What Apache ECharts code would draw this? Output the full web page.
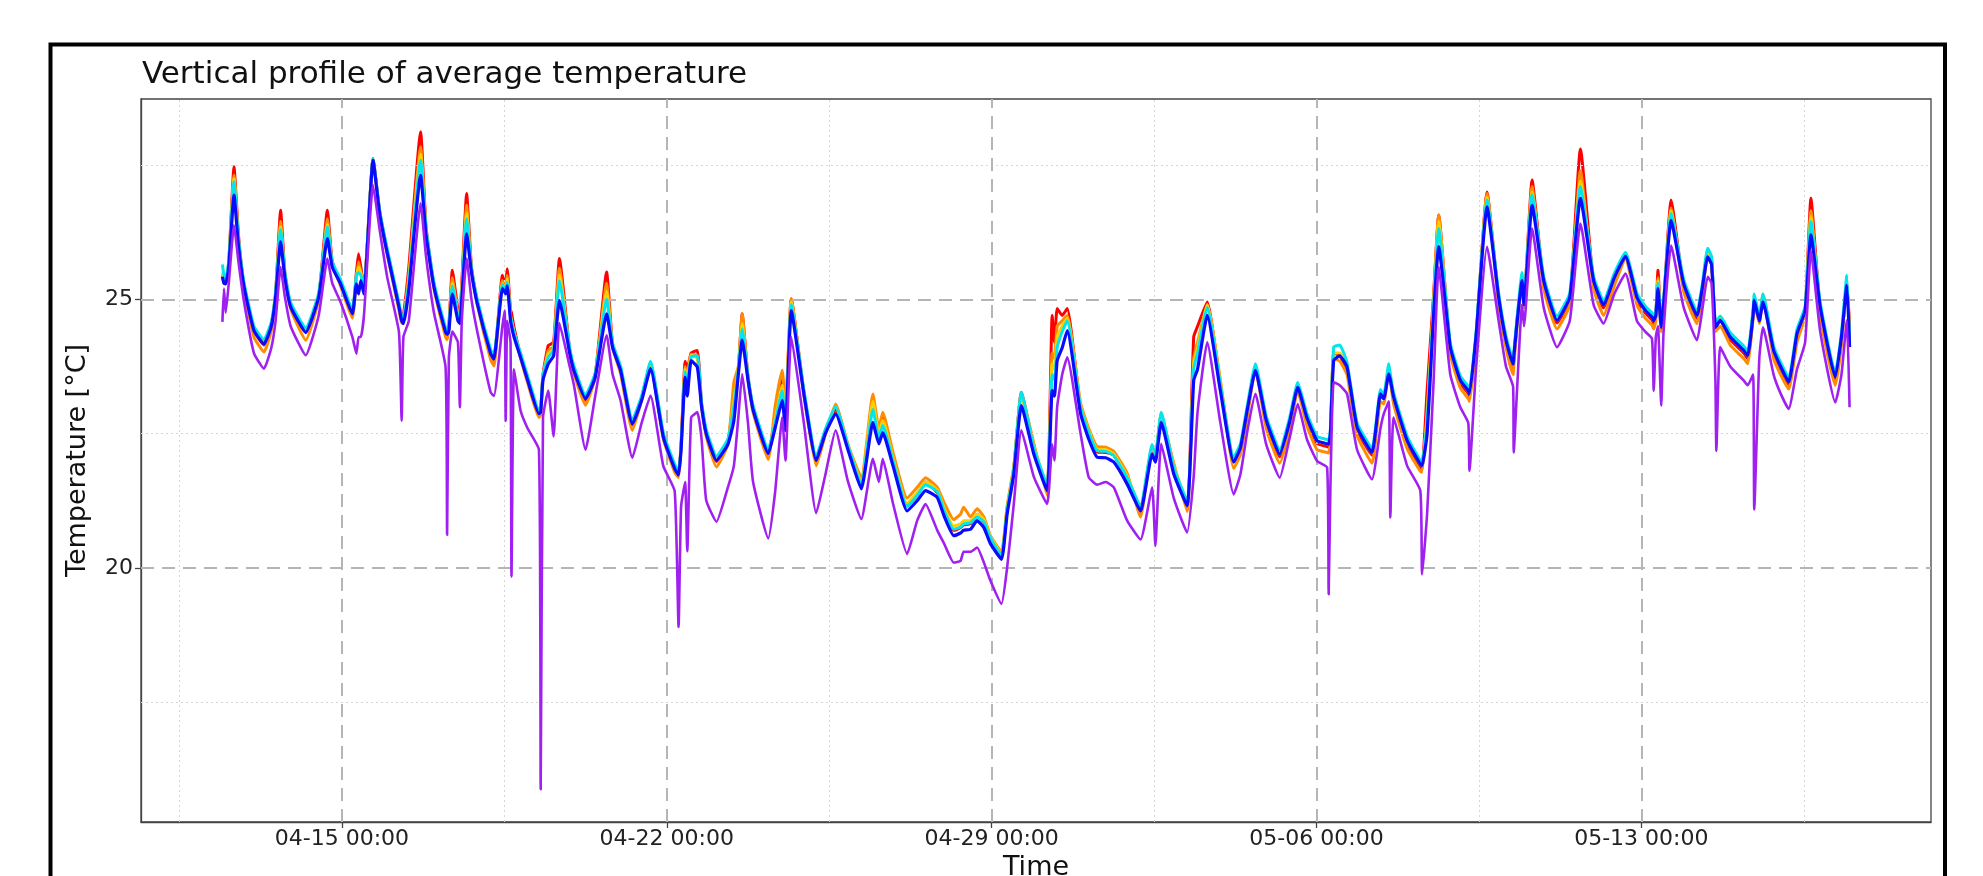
<!DOCTYPE html>
<html><head><meta charset="utf-8">
<script src="https://cdn.jsdelivr.net/npm/echarts@6/dist/echarts.min.js"></script>
<style>html,body{margin:0;padding:0;background:#fff}#chart{width:1983px;height:876px}</style>
</head><body><div id="chart"></div>
<script>
// time axis: hours since 04-12 00:00
const hours = [
10.2, 11.0, 11.9, 13.5, 16.2, 18.5, 21.4, 26.5, 31.7, 35.5,
37.7, 40.3, 42.5, 45.5, 53.3, 60.0, 64.5, 67.0, 71.3, 77.4,
79.5, 80.6, 81.8, 83.4, 88.1, 91.5, 95.5, 101.5, 102.9, 103.8,
106.6, 112.7, 115.5, 119.6, 125.6, 126.4, 127.3, 129.1, 132.0, 133.0,
134.0, 136.5, 139.0, 142.0, 148.9, 150.6, 155.0, 156.2, 156.7, 157.5,
159.2, 159.7, 161.0, 164.4, 168.0, 173.9, 174.8, 176.0, 178.7, 181.5,
184.5, 189.8, 192.0, 198.0, 203.0, 208.9, 212.0, 216.1, 222.2, 227.0,
231.6, 238.2, 244.1, 246.1, 247.4, 249.5, 250.6, 252.6, 255.8, 258.0,
260.4, 265.7, 271.6, 274.7, 277.0, 279.0, 282.0, 284.6, 292.5, 296.0,
299.7, 301.4, 304.4, 310.9, 317.3, 322.0, 327.3, 333.7, 340.6, 346.6,
349.7, 351.7, 357.0, 364.3, 369.5, 373.8, 379.9, 383.6, 388.4, 391.9,
393.5, 397.1, 400.5, 404.0, 407.4, 413.1, 416.0, 419.5, 423.4, 429.8,
436.7, 439.3, 440.5, 441.9, 444.5, 447.1, 454.0, 458.2, 462.6, 467.0,
471.2, 478.1, 485.0, 491.0, 492.7, 495.7, 502.2, 509.1, 512.5, 514.5,
519.5, 526.3, 533.2, 536.7, 540.5, 544.4, 550.0, 557.0, 562.0, 566.3,
571.0, 576.3, 581.5, 582.3, 583.2, 584.9, 588.0, 591.8, 597.0, 604.7,
609.1, 610.8, 613.4, 614.2, 615.9, 622.9, 629.7, 630.6, 633.2, 636.6,
639.2, 645.2, 650.4, 654.5, 655.1, 658.5, 664.2, 670.2, 674.0, 677.7,
678.0, 679.7, 682.3, 683.3, 687.5, 693.5, 700.4, 707.0, 712.5, 719.3,
724.5, 730.0, 735.8, 741.7, 746.0, 749.5, 750.4, 751.5, 752.6, 754.3,
755.5, 759.4, 765.9, 772.8, 775.5, 778.3, 780.3, 782.3, 782.8, 784.8,
790.0, 796.9, 799.0, 801.8, 802.4, 805.0, 806.9, 812.4, 816.0, 820.2,
824.5, 828.7, 831.7, 836.5, 844.3, 847.5, 850.3, 851.7
];

const redValues = [
25.45, 25.33, 25.32, 25.7, 27.47, 26.2, 25.26, 24.42, 24.15, 24.5,
25.1, 26.66, 25.5, 24.88, 24.38, 25.06, 26.66, 25.7, 25.31, 24.75,
25.5, 25.85, 25.6, 25.2, 27.62, 26.65, 25.88, 24.88, 24.62, 24.7,
25.6, 28.12, 26.35, 25.26, 24.4, 24.36, 24.5, 25.54, 24.8, 24.7,
25.3, 26.97, 25.6, 24.95, 23.98, 23.86, 25.45, 25.3, 25.3, 25.57,
24.8, 24.75, 24.48, 23.95, 23.52, 22.88, 22.92, 23.6, 24.14, 24.2,
25.76, 24.05, 23.7, 23.12, 23.6, 25.51, 24.15, 23.7, 22.66, 23.16,
23.8, 22.46, 21.86, 21.75, 22.3, 23.85, 23.7, 24.0, 24.05, 23.05,
22.52, 21.98, 22.35, 23.2, 23.7, 24.73, 23.55, 22.98, 22.12, 22.8,
23.5, 22.8, 25.01, 23.27, 21.98, 22.52, 22.95, 22.25, 21.55, 23.1,
22.45, 22.8, 22.0, 21.15, 21.35, 21.6, 21.4, 21.05, 20.7, 20.75,
20.8, 20.82, 21.0, 20.85, 20.55, 20.22, 21.1, 21.85, 23.27, 22.22,
21.5, 24.7, 24.2, 24.83, 24.7, 24.83, 22.97, 22.5, 22.16, 22.15,
22.1, 21.66, 21.1, 22.2, 22.05, 22.85, 21.85, 21.2, 24.3, 24.5,
24.95, 23.4, 22.0, 22.22, 22.98, 23.75, 22.7, 22.07, 22.65, 23.4,
22.75, 22.32, 22.26, 22.25, 22.45, 24.0, 23.95, 23.69, 22.57, 22.1,
23.2, 23.15, 23.7, 23.55, 23.15, 22.32, 21.88, 21.85, 23.3, 25.1,
26.57, 24.06, 23.44, 23.25, 23.2, 24.28, 27.0, 25.0, 24.2, 23.75,
23.75, 24.6, 25.4, 24.95, 27.22, 25.3, 24.56, 25.0, 27.8, 25.3,
24.84, 25.35, 25.85, 25.0, 24.75, 24.62, 24.55, 24.7, 25.54, 24.5,
24.9, 26.85, 25.24, 24.65, 25.15, 25.9, 25.75, 24.5, 24.52, 24.6,
24.25, 24.0, 23.9, 24.75, 25.02, 24.6, 25.05, 24.0, 23.7, 23.41,
24.31, 24.8, 26.88, 24.81, 23.5, 24.25, 25.3, 24.5
];

const orangeValues = [
25.42, 25.3, 25.29, 25.65, 27.31, 26.1, 25.2, 24.3, 24.02, 24.42,
25.04, 26.45, 25.42, 24.82, 24.24, 25.0, 26.5, 25.65, 25.25, 24.65,
25.4, 25.7, 25.5, 25.15, 27.6, 26.6, 25.82, 24.8, 24.55, 24.6,
25.45, 27.84, 26.3, 25.2, 24.3, 24.25, 24.45, 25.4, 24.7, 24.6,
25.2, 26.75, 25.55, 24.9, 23.88, 23.76, 25.35, 25.25, 25.2, 25.45,
24.7, 24.6, 24.4, 23.9, 23.45, 22.8, 22.85, 23.55, 24.05, 24.12,
25.58, 24.0, 23.62, 23.03, 23.55, 25.3, 24.1, 23.62, 22.56, 23.12,
23.78, 22.4, 21.78, 21.68, 22.25, 23.75, 23.55, 23.98, 23.95, 23.0,
22.45, 21.88, 22.3, 23.46, 23.75, 24.73, 23.5, 22.9, 22.02, 23.0,
23.68, 23.0, 25.01, 23.22, 21.9, 22.48, 23.05, 22.3, 21.68, 23.24,
22.6, 22.9, 22.15, 21.3, 21.5, 21.68, 21.5, 21.2, 20.9, 21.0,
21.13, 20.95, 21.1, 20.95, 20.6, 20.3, 21.15, 21.9, 23.25, 22.32,
21.35, 24.0, 23.9, 24.5, 24.6, 24.7, 23.07, 22.6, 22.26, 22.25,
22.17, 21.76, 20.95, 22.25, 22.1, 22.8, 21.95, 21.05, 23.9, 24.2,
24.9, 23.5, 21.85, 22.12, 22.88, 23.7, 22.6, 21.95, 22.55, 23.3,
22.65, 22.2, 22.15, 22.14, 22.35, 23.9, 23.85, 23.6, 22.47, 21.95,
23.1, 23.05, 23.7, 23.5, 23.05, 22.22, 21.8, 21.78, 22.9, 25.0,
26.57, 23.98, 23.35, 23.15, 23.1, 24.2, 26.97, 24.9, 24.1, 23.6,
23.6, 24.5, 25.3, 24.85, 27.1, 25.2, 24.45, 24.9, 27.4, 25.2,
24.7, 25.25, 25.75, 24.9, 24.65, 24.52, 24.45, 24.6, 25.4, 24.4,
24.8, 26.7, 25.15, 24.55, 25.05, 25.85, 25.65, 24.4, 24.42, 24.5,
24.15, 23.9, 23.8, 24.65, 24.95, 24.55, 25.05, 23.9, 23.6, 23.33,
24.2, 24.7, 26.65, 24.7, 23.4, 24.15, 25.3, 24.45
];

const goldValues = [
25.5, 25.35, 25.34, 25.68, 27.25, 26.1, 25.28, 24.45, 24.2, 24.55,
25.1, 26.35, 25.45, 24.9, 24.42, 25.08, 26.4, 25.66, 25.33, 24.77,
25.4, 25.6, 25.5, 25.16, 27.6, 26.62, 25.9, 24.9, 24.64, 24.62,
25.35, 27.7, 26.3, 25.28, 24.43, 24.39, 24.46, 25.3, 24.7, 24.6,
25.15, 26.6, 25.55, 24.96, 24.03, 23.93, 25.3, 25.2, 25.2, 25.38,
24.68, 24.6, 24.38, 23.96, 23.54, 22.9, 22.95, 23.58, 23.98, 24.08,
25.45, 24.06, 23.72, 23.18, 23.6, 25.15, 24.14, 23.72, 22.72, 23.16,
23.8, 22.49, 21.9, 21.78, 22.25, 23.7, 23.45, 23.96, 23.9, 23.05,
22.54, 22.04, 22.36, 23.1, 23.7, 24.55, 23.55, 23.0, 22.18, 22.75,
23.4, 22.75, 24.95, 23.28, 22.05, 22.55, 23.0, 22.28, 21.6, 23.1,
22.5, 22.75, 22.05, 21.2, 21.4, 21.6, 21.45, 21.1, 20.78, 20.82,
20.88, 20.88, 21.0, 20.9, 20.58, 20.26, 21.1, 21.88, 23.2, 22.26,
21.52, 23.8, 23.7, 24.3, 24.5, 24.65, 23.02, 22.55, 22.21, 22.2,
22.12, 21.71, 21.12, 22.25, 22.1, 22.85, 21.9, 21.22, 23.8, 24.1,
24.9, 23.45, 22.03, 22.25, 23.0, 23.75, 22.75, 22.12, 22.7, 23.4,
22.8, 22.37, 22.31, 22.3, 22.5, 24.0, 24.0, 23.74, 22.62, 22.15,
23.24, 23.15, 23.75, 23.55, 23.18, 22.37, 21.93, 21.9, 22.8, 24.95,
26.45, 24.11, 23.49, 23.3, 23.24, 24.3, 26.9, 25.04, 24.24, 23.8,
23.8, 24.55, 25.4, 24.95, 27.0, 25.35, 24.61, 25.04, 27.2, 25.35,
24.89, 25.4, 25.8, 25.04, 24.8, 24.67, 24.6, 24.7, 25.35, 24.5,
24.9, 26.65, 25.29, 24.7, 25.2, 25.9, 25.72, 24.5, 24.52, 24.63,
24.3, 24.05, 23.95, 24.75, 25.0, 24.62, 25.1, 24.05, 23.75, 23.46,
24.36, 24.8, 26.54, 24.86, 23.55, 24.3, 25.35, 24.2
];

const cyanValues = [
25.65, 25.45, 25.38, 25.72, 27.19, 26.12, 25.31, 24.5, 24.25, 24.58,
25.14, 26.3, 25.5, 24.94, 24.47, 25.12, 26.35, 25.7, 25.37, 24.81,
25.45, 25.5, 25.45, 25.2, 27.62, 26.66, 25.93, 24.94, 24.68, 24.65,
25.3, 27.59, 26.32, 25.32, 24.47, 24.43, 24.5, 25.25, 24.7, 24.65,
25.1, 26.5, 25.58, 25.0, 24.07, 23.97, 25.28, 25.2, 25.18, 25.32,
24.68, 24.6, 24.38, 24.0, 23.58, 22.95, 22.98, 23.6, 23.92, 24.05,
25.34, 24.1, 23.76, 23.22, 23.63, 25.0, 24.18, 23.76, 22.76, 23.2,
23.85, 22.52, 21.93, 21.8, 22.25, 23.65, 23.35, 23.93, 23.95, 23.08,
22.58, 22.08, 22.4, 23.0, 23.68, 24.45, 23.58, 23.03, 22.21, 22.7,
23.3, 22.68, 24.9, 23.32, 22.08, 22.58, 23.0, 22.28, 21.55, 22.95,
22.42, 22.65, 22.0, 21.15, 21.35, 21.55, 21.42, 21.05, 20.72, 20.76,
20.82, 20.84, 20.95, 20.86, 20.55, 20.24, 21.08, 21.85, 23.27, 22.24,
21.55, 23.6, 23.5, 24.1, 24.4, 24.6, 22.99, 22.52, 22.18, 22.17,
22.09, 21.68, 21.15, 22.3, 22.1, 22.9, 21.87, 21.25, 23.7, 24.0,
24.85, 23.42, 22.06, 22.32, 23.08, 23.8, 22.83, 22.2, 22.78, 23.45,
22.88, 22.45, 22.39, 22.38, 22.58, 24.11, 24.15, 23.82, 22.7, 22.23,
23.32, 23.22, 23.8, 23.6, 23.26, 22.45, 22.0, 21.98, 22.7, 24.9,
26.32, 24.19, 23.57, 23.38, 23.32, 24.38, 26.85, 25.12, 24.32, 23.88,
23.88, 24.65, 25.5, 25.0, 26.95, 25.43, 24.69, 25.12, 27.1, 25.43,
24.97, 25.48, 25.87, 25.12, 24.88, 24.75, 24.68, 24.78, 25.3, 24.56,
24.98, 26.6, 25.37, 24.78, 25.28, 25.95, 25.8, 24.56, 24.58, 24.69,
24.38, 24.13, 24.03, 24.82, 25.1, 24.68, 25.1, 24.13, 23.83, 23.54,
24.44, 24.87, 26.45, 24.94, 23.63, 24.38, 25.45, 24.2
];

const blueValues = [
25.42, 25.3, 25.29, 25.6, 26.94, 26.0, 25.23, 24.42, 24.17, 24.5,
25.04, 26.07, 25.4, 24.86, 24.39, 25.04, 26.13, 25.6, 25.29, 24.73,
25.29, 25.1, 25.35, 25.1, 27.59, 26.6, 25.85, 24.86, 24.6, 24.55,
25.17, 27.31, 26.2, 25.23, 24.39, 24.35, 24.4, 25.1, 24.6, 24.55,
25.0, 26.22, 25.5, 24.92, 23.99, 23.89, 25.2, 25.14, 25.1, 25.25,
24.6, 24.5, 24.3, 23.92, 23.5, 22.87, 22.9, 23.5, 23.8, 23.95,
24.98, 24.0, 23.67, 23.15, 23.55, 24.73, 24.1, 23.68, 22.68, 23.12,
23.71, 22.44, 21.85, 21.73, 22.2, 23.55, 23.2, 23.86, 23.74, 23.0,
22.5, 22.0, 22.3, 22.74, 23.6, 24.24, 23.5, 22.95, 22.13, 22.6,
23.12, 22.56, 24.79, 23.24, 22.0, 22.5, 22.87, 22.2, 21.47, 22.71,
22.31, 22.52, 21.9, 21.06, 21.25, 21.44, 21.31, 20.95, 20.6, 20.65,
20.7, 20.72, 20.88, 20.75, 20.45, 20.16, 21.0, 21.75, 23.02, 22.12,
21.44, 23.3, 23.2, 23.86, 24.1, 24.42, 22.87, 22.4, 22.06, 22.05,
21.97, 21.56, 21.06, 22.12, 21.97, 22.71, 21.75, 21.16, 23.49, 23.7,
24.7, 23.3, 21.97, 22.24, 23.0, 23.68, 22.75, 22.12, 22.7, 23.36,
22.8, 22.37, 22.31, 22.3, 22.5, 23.86, 23.95, 23.74, 22.62, 22.15,
23.24, 23.15, 23.61, 23.5, 23.18, 22.37, 21.93, 21.9, 22.49, 24.73,
25.98, 24.11, 23.49, 23.3, 23.24, 24.3, 26.72, 25.04, 24.24, 23.8,
23.8, 24.55, 25.35, 24.9, 26.75, 25.35, 24.61, 25.04, 26.88, 25.35,
24.89, 25.4, 25.8, 25.04, 24.8, 24.67, 24.6, 24.7, 25.2, 24.48,
24.9, 26.47, 25.29, 24.7, 25.2, 25.79, 25.65, 24.48, 24.5, 24.61,
24.3, 24.05, 23.95, 24.7, 24.98, 24.6, 24.95, 24.05, 23.75, 23.46,
24.36, 24.79, 26.2, 24.86, 23.55, 24.3, 25.26, 24.11
];

const purpleValues = [
24.58, 25.2, 24.75, 25.3, 26.38, 25.7, 24.95, 24.0, 23.71, 24.1,
24.6, 25.6, 25.05, 24.5, 23.96, 24.7, 25.76, 25.3, 24.95, 24.3,
23.99, 24.3, 24.3, 24.7, 27.13, 26.3, 25.4, 24.39, 22.74, 24.3,
24.6, 26.79, 25.8, 24.75, 23.74, 20.62, 23.9, 24.4, 24.2, 22.99,
24.6, 25.76, 25.0, 24.4, 23.27, 23.2, 24.5, 24.79, 22.74, 24.6,
24.2, 19.84, 23.7, 22.93, 22.6, 22.2, 15.88, 22.8, 23.3, 22.45,
24.56, 23.75, 23.4, 22.2, 23.2, 24.33, 23.6, 23.12, 22.05, 22.7,
23.21, 21.9, 21.43, 18.9, 21.14, 21.6, 20.31, 22.8, 22.9, 22.4,
21.26, 20.86, 21.5, 21.9, 22.8, 23.61, 22.7, 21.61, 20.55, 21.4,
22.8, 22.0, 24.3, 22.7, 21.02, 21.73, 22.56, 21.61, 20.91, 22.03,
21.6, 22.03, 21.2, 20.26, 20.88, 21.19, 20.7, 20.44, 20.1, 20.13,
20.3, 20.3, 20.38, 20.1, 19.76, 19.33, 20.0, 21.2, 22.56, 21.7,
21.19, 22.3, 22.0, 23.0, 23.6, 23.92, 22.5, 21.69, 21.55, 21.6,
21.5, 20.88, 20.53, 21.5, 20.41, 22.31, 21.3, 20.66, 21.7, 22.9,
24.2, 22.7, 21.37, 21.75, 22.6, 23.24, 22.3, 21.68, 22.4, 23.05,
22.4, 21.99, 21.87, 19.51, 21.5, 23.46, 23.4, 23.24, 22.2, 21.65,
22.6, 22.87, 23.1, 20.94, 22.8, 21.9, 21.44, 19.88, 21.0, 23.5,
25.6, 23.6, 22.99, 22.7, 21.81, 23.7, 25.98, 24.6, 23.75, 23.37,
22.15, 23.3, 24.9, 24.5, 26.32, 24.85, 24.11, 24.6, 26.41, 24.9,
24.55, 25.1, 25.48, 24.6, 24.4, 24.27, 23.3, 24.3, 24.5, 23.02,
24.4, 26.0, 24.85, 24.24, 24.8, 25.42, 25.3, 23.5, 22.18, 24.11,
23.75, 23.49, 23.4, 23.6, 21.09, 23.9, 24.48, 23.6, 23.25, 22.96,
23.7, 24.2, 25.9, 24.4, 23.08, 23.6, 24.61, 22.99
];

const seriesNames = ['Level 1', 'Level 2', 'Level 3', 'Level 4', 'Level 5', 'Level 6'];
const seriesValues = [redValues, orangeValues, goldValues, cyanValues, blueValues, purpleValues];
const seriesColors = ['#ff0000', '#ff8c00', '#ffd000', '#00e5ee', '#0a0aff', '#a020f0'];
const seriesWidths = [3, 3, 3, 3, 3.2, 2.6];

const tickHours = [72, 240, 408, 576, 744];
const tickLabels = ['04-15 00:00', '04-22 00:00', '04-29 00:00', '05-06 00:00', '05-13 00:00'];
const minorTickHours = [-12, 156, 324, 492, 660, 828];
const majorYTicks = [20, 25];
const minorYTicks = [17.5, 22.5, 27.5];
const xRange = [-31.9, 893.8];
const yRange = [15.27, 28.73];

const FONT = 'DejaVu Sans';
const majorStyle = { color: '#b5b5b5', width: 2, type: [13, 8] };
const minorStyle = { color: '#d6d6d6', width: 1, type: [2, 3] };

const gridMarks = {
  silent: true, symbol: ['none', 'none'], label: { show: false }, animation: false,
  emphasis: { disabled: true },
  data: [].concat(
    majorYTicks.map(v => ({ yAxis: v, lineStyle: majorStyle })),
    minorYTicks.map(v => ({ yAxis: v, lineStyle: minorStyle })),
    tickHours.map(v => ({ xAxis: v, lineStyle: majorStyle })),
    minorTickHours.map(v => ({ xAxis: v, lineStyle: minorStyle }))
  )
};

const chart = echarts.init(document.getElementById('chart'), null, { renderer: 'canvas' });
const series = [{ type: 'line', name: 'grid', data: [], z: 1, silent: true, markLine: gridMarks }];
seriesValues.forEach((vals, i) => {
  series.push({
    type: 'line', name: seriesNames[i], z: 2 + i,
    data: hours.map((h, k) => [h, vals[k]]),
    showSymbol: false, symbol: 'none', smooth: 0.15,
    lineStyle: { color: seriesColors[i], width: seriesWidths[i], join: 'round' },
    itemStyle: { color: seriesColors[i] },
    emphasis: { disabled: true }
  });
});

chart.setOption({
  animation: false,
  backgroundColor: '#ffffff',
  title: {
    text: 'Vertical profile of average temperature',
    left: 142, top: 59, padding: 0,
    textStyle: { fontFamily: FONT, fontSize: 31, fontWeight: 'normal', color: '#111' }
  },
  grid: {
    left: 141, right: 52, top: 99, bottom: 54, show: true,
    borderColor: '#444', borderWidth: 1.3, containLabel: false, outerBoundsMode: 'none'
  },
  xAxis: {
    type: 'value', min: xRange[0], max: xRange[1],
    name: 'Time', nameLocation: 'middle', nameGap: 32,
    nameTextStyle: { fontFamily: FONT, fontSize: 27, color: '#111' },
    axisLine: { show: true, onZero: false, lineStyle: { color: '#444', width: 1.3 } },
    axisTick: { show: true, length: 6, customValues: tickHours, lineStyle: { color: '#444', width: 1.3 } },
    axisLabel: {
      customValues: tickHours, margin: 6,
      formatter: v => { const i = tickHours.indexOf(v); return i >= 0 ? tickLabels[i] : ''; },
      fontFamily: FONT, fontSize: 22, color: '#222'
    },
    splitLine: { show: false }
  },
  yAxis: {
    type: 'value', min: yRange[0], max: yRange[1],
    name: 'Temperature [°C]', nameLocation: 'middle', nameRotate: 90, nameGap: 50,
    nameTextStyle: { fontFamily: FONT, fontSize: 27, color: '#111' },
    axisLine: { show: true, onZero: false, lineStyle: { color: '#444', width: 1.3 } },
    axisTick: { show: true, length: 6, customValues: majorYTicks, lineStyle: { color: '#444', width: 1.3 } },
    axisLabel: {
      customValues: majorYTicks, margin: 8,
      formatter: v => String(v),
      fontFamily: FONT, fontSize: 22, color: '#222'
    },
    splitLine: { show: false }
  },
  graphic: [{
    type: 'rect', silent: true, z: 100,
    shape: { x: 50.5, y: 44.5, width: 1894.5, height: 1000 },
    style: { fill: 'none', stroke: '#000', lineWidth: 4 }
  }],
  series: series
});
</script>
</body></html>
